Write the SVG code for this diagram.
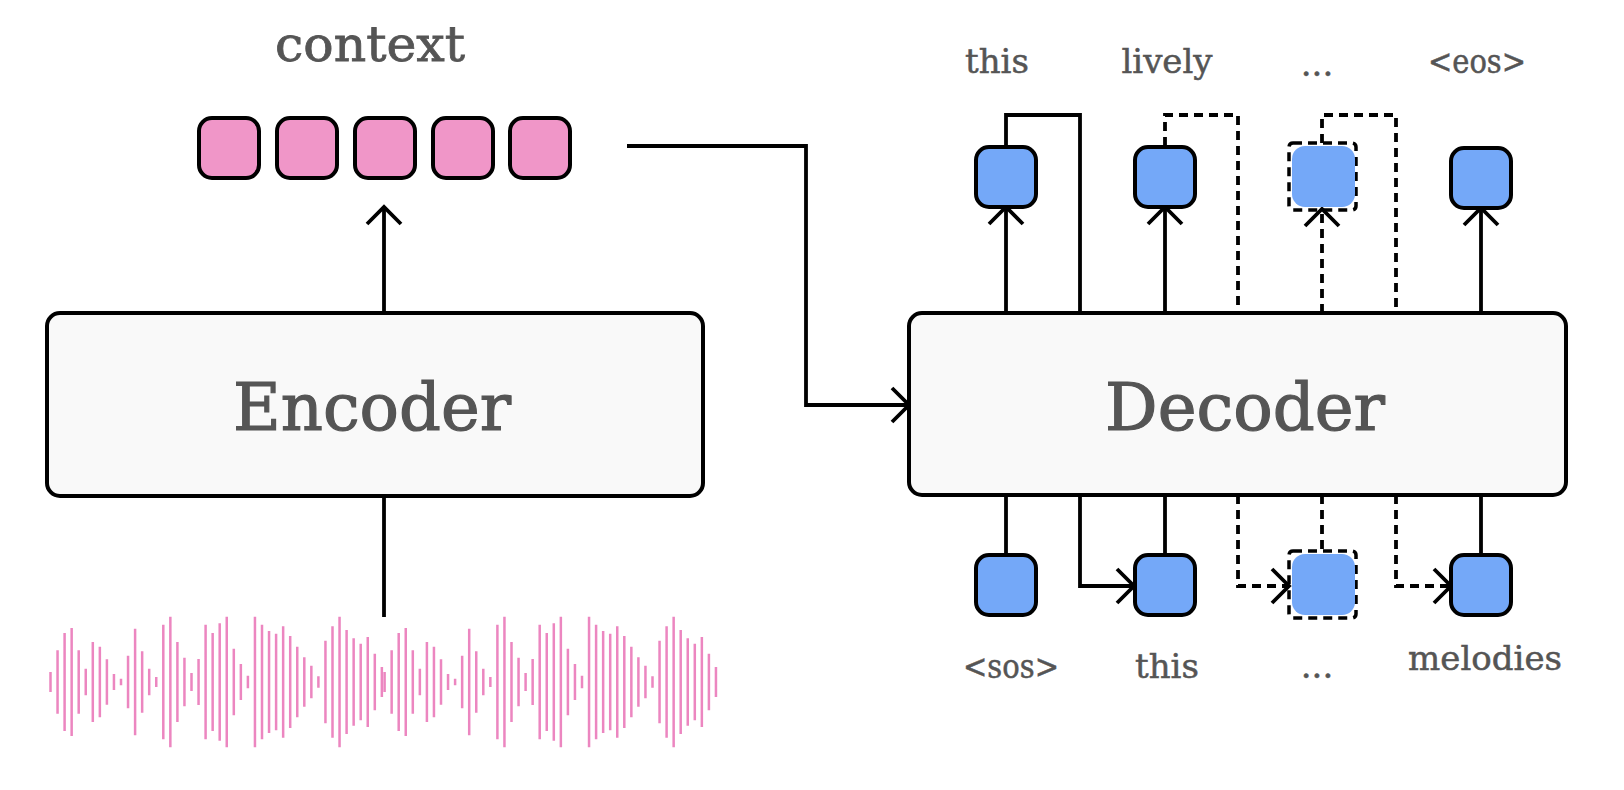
<svg xmlns="http://www.w3.org/2000/svg" xmlns:xlink="http://www.w3.org/1999/xlink" width="1624" height="790" viewBox="0 0 1624 790">
<style>
.lbl{font-family:"DejaVu Serif","Liberation Serif",serif;fill:#555;stroke:#555;text-anchor:middle}
.big{font-size:66px;stroke-width:1.2}
.tok{font-size:34px;stroke-width:0.5}
.ctx{font-size:48px;stroke-width:0.8}
.blk{fill:#f9f9f9;stroke:#000;stroke-width:4}
.pink{fill:#f096c8;stroke:#000;stroke-width:4}
.blue{fill:#74a8f8;stroke:#000;stroke-width:4}
.bluef{fill:#74a8f8;stroke:none}
.dbox{fill:none;stroke:#000;stroke-width:3.5;stroke-dasharray:9 6}
.c{fill:none;stroke:#000;stroke-width:3.8}
.d{fill:none;stroke:#000;stroke-width:3.8;stroke-dasharray:9 6}
.wave{fill:none;stroke:#ec86c0;stroke-width:2.5}
</style>
<defs>
<marker id="ah" markerUnits="userSpaceOnUse" markerWidth="40" markerHeight="40" viewBox="-20 -20 40 40" refX="0" refY="0" orient="auto">
<path d="M-17,-17 L0,0 L-17,17" fill="none" stroke="#000" stroke-width="3.8"/>
</marker>
<path id="wv" d="M0,-10V10 M7.05,-31.7V31.7 M14.1,-49V49 M21.15,-54V54 M28.2,-31.7V31.7 M35.25,-13.3V13.3 M42.3,-40V40 M49.35,-35.3V35.3 M56.4,-22.7V22.7 M63.45,-8V8 M70.5,-3.3V3.3 M77.55,-26.3V26.3 M84.6,-53.3V53.3 M91.65,-30.7V30.7 M98.7,-13.3V13.3 M105.75,-5V5 M112.8,-57.3V57.3 M119.85,-65.3V65.3 M126.9,-40V40 M133.95,-24.2V24.2 M141,-9V9 M148.05,-23V23 M155.1,-57.3V57.3 M162.15,-49V49 M169.2,-58.7V58.7 M176.25,-65.3V65.3 M183.3,-33.3V33.3 M190.35,-18V18 M197.4,-6.2V6.2 M204.45,-65.3V65.3 M211.5,-57.3V57.3 M218.55,-51V51 M225.6,-48.3V48.3 M232.65,-55.7V55.7 M239.7,-46V46 M246.75,-35.3V35.3 M253.8,-24.7V24.7 M260.85,-16.3V16.3 M267.9,-5.8V5.8 M274.95,-41.3V41.3 M282,-55.7V55.7 M289.05,-65.3V65.3 M296.1,-52V52 M303.15,-43.7V43.7 M310.2,-38.3V38.3 M317.25,-45V45 M324.3,-28.3V28.3 M331.35,-15V15"/>
</defs>
<rect width="1624" height="790" fill="#fff"/>

<g id="connectors">
<path class="c" d="M384,496 V617"/>
<path class="c" d="M384,313 V207" marker-end="url(#ah)"/>
<path class="c" d="M627,146 H806 V405 H909" marker-end="url(#ah)"/>
<path class="c" d="M1006,313 V207" marker-end="url(#ah)"/>
<path class="c" d="M1006,146 V115 H1080 V313"/>
<path class="c" d="M1165,313 V207" marker-end="url(#ah)"/>
<path class="d" d="M1165,146 V115 H1238 V313"/>
<path class="d" d="M1322,313 V209" marker-end="url(#ah)"/>
<path class="d" d="M1322,143 V115 H1396 V313"/>
<path class="c" d="M1481,313 V208" marker-end="url(#ah)"/>
<path class="c" d="M1006,495 V555"/>
<path class="c" d="M1080,495 V586 H1134" marker-end="url(#ah)"/>
<path class="c" d="M1165,495 V555"/>
<path class="d" d="M1238,495 V586 H1289" marker-end="url(#ah)"/>
<path class="d" d="M1322,495 V551"/>
<path class="d" d="M1396,495 V586 H1451" marker-end="url(#ah)"/>
<path class="c" d="M1481,495 V555"/>
</g>

<g id="waveform">
<use xlink:href="#wv" href="#wv" class="wave" transform="translate(50.5,682)"/>
<use xlink:href="#wv" href="#wv" class="wave" transform="translate(384.6,682)"/>
</g>

<g id="encoder">
<rect class="blk" x="47" y="313" width="656" height="183" rx="13"/>
<text class="lbl big" x="372" y="430" textLength="278" lengthAdjust="spacingAndGlyphs">Encoder</text>
</g>

<g id="decoder">
<rect class="blk" x="909" y="313" width="657" height="182" rx="13"/>
<text class="lbl big" x="1245" y="430" textLength="280" lengthAdjust="spacingAndGlyphs">Decoder</text>
</g>

<g id="context">
<text class="lbl ctx" x="370" y="61" textLength="190" lengthAdjust="spacingAndGlyphs">context</text>
<rect class="pink" x="199" y="118" width="60" height="60" rx="13"/>
<rect class="pink" x="277" y="118" width="60" height="60" rx="13"/>
<rect class="pink" x="355" y="118" width="60" height="60" rx="13"/>
<rect class="pink" x="433" y="118" width="60" height="60" rx="13"/>
<rect class="pink" x="510" y="118" width="60" height="60" rx="13"/>
</g>

<g id="out1"><rect class="blue" x="976" y="147" width="60" height="60" rx="13"/><text class="lbl tok" x="997" y="73">this</text></g>
<g id="out2"><rect class="blue" x="1135" y="147" width="60" height="60" rx="13"/><text class="lbl tok" x="1167" y="73">lively</text></g>
<g id="out3"><rect class="dbox" x="1289" y="143" width="67" height="67" rx="4"/><rect class="bluef" x="1292" y="146" width="63" height="61" rx="13"/><text class="lbl tok" x="1317" y="76">...</text></g>
<g id="out4"><rect class="blue" x="1451" y="148" width="60" height="60" rx="13"/><text class="lbl tok" x="1477" y="73" textLength="98" lengthAdjust="spacingAndGlyphs">&lt;eos&gt;</text></g>

<g id="in1"><rect class="blue" x="976" y="555" width="60" height="60" rx="13"/><text class="lbl tok" x="1011" y="678" textLength="96" lengthAdjust="spacingAndGlyphs">&lt;sos&gt;</text></g>
<g id="in2"><rect class="blue" x="1135" y="555" width="60" height="60" rx="13"/><text class="lbl tok" x="1167" y="678">this</text></g>
<g id="in3"><rect class="dbox" x="1289" y="551" width="67" height="67" rx="4"/><rect class="bluef" x="1292" y="554" width="63" height="61" rx="13"/><text class="lbl tok" x="1317" y="678">...</text></g>
<g id="in4"><rect class="blue" x="1451" y="555" width="60" height="60" rx="13"/><text class="lbl tok" x="1485" y="670">melodies</text></g>
</svg>
